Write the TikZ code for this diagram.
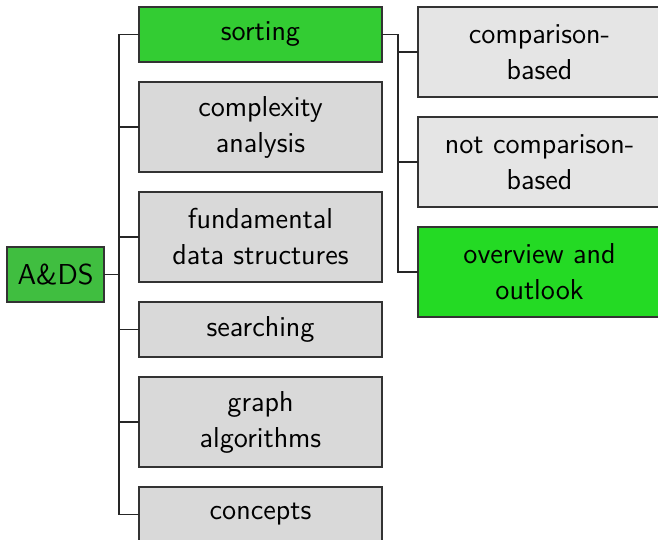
\documentclass[tikz,border=0pt]{standalone}
\usepackage{tikz}
\usetikzlibrary{positioning, chains}
\definecolor{rootgreen}{RGB}{64,190,64}
\definecolor{markgreen}{RGB}{51,204,51}
\definecolor{brightgreen}{RGB}{36,218,36}
\tikzset{
  topic/.style={
    rectangle,
    draw=black!80, semithick,
    fill=black!15,
    minimum width=121.5pt,
    minimum height=27.5pt,
    outer sep=0pt,
    align=center,
    font=\Large\sffamily,
    on chain},
  subtopic/.style={
    topic,
    fill=black!10},
  tall/.style={minimum height=45pt},
  marked/.style={fill=markgreen},
  branch/.style={draw=black!85, semithick},
}

\begin{document}
\begin{tikzpicture}[node distance=10pt]
  \useasboundingbox (0,0) rectangle (329pt,-270pt);
  \node[rectangle, draw=black!80, semithick, fill=rootgreen, minimum width=48.5pt,
        minimum height=27.5pt, outer sep=0pt, font=\Large\sffamily, anchor=west] (ADS) at (3.5pt,-137.25pt) {A\&DS};
  % first level
  \begin{scope}[start chain=going below]
    \node[topic, marked, anchor=north west] (Sorting) at (69.5pt,-3.5pt) {sorting};
    \node[topic, tall] (Complexity) {complexity\\analysis};
    \node[topic, tall] (Structures) {fundamental\\data structures};
    \node[topic]       (Searching)  {searching};
    \node[topic, tall] (Graphs)     {graph\\algorithms};
    \node[topic]       (Concepts)   {concepts};
  \end{scope}
  % second level
  \begin{scope}[start chain=going below]
    \node[subtopic, tall, anchor=north west] (CompBased) at (209pt,-3.5pt) {comparison-\\based};
    \node[subtopic, tall] (NotCompBased) {not comparison-\\based};
    \node[subtopic, tall, fill=brightgreen] (Outlook) {overview and\\outlook};
  \end{scope}
  \coordinate (MainFork) at ([xshift=-10pt]Sorting.west);
  \coordinate (SortFork) at ([xshift=8pt]Sorting.east);
  \foreach \n in {Sorting,Complexity,Structures,Searching,Graphs,Concepts}
    \draw[branch] (ADS.east) -- (ADS.east -| MainFork) |- (\n.west);
  \foreach \n in {CompBased,NotCompBased,Outlook}
    \draw[branch] (Sorting.east) -- (Sorting.east -| SortFork) |- (\n.west);
\end{tikzpicture}
\end{document}
